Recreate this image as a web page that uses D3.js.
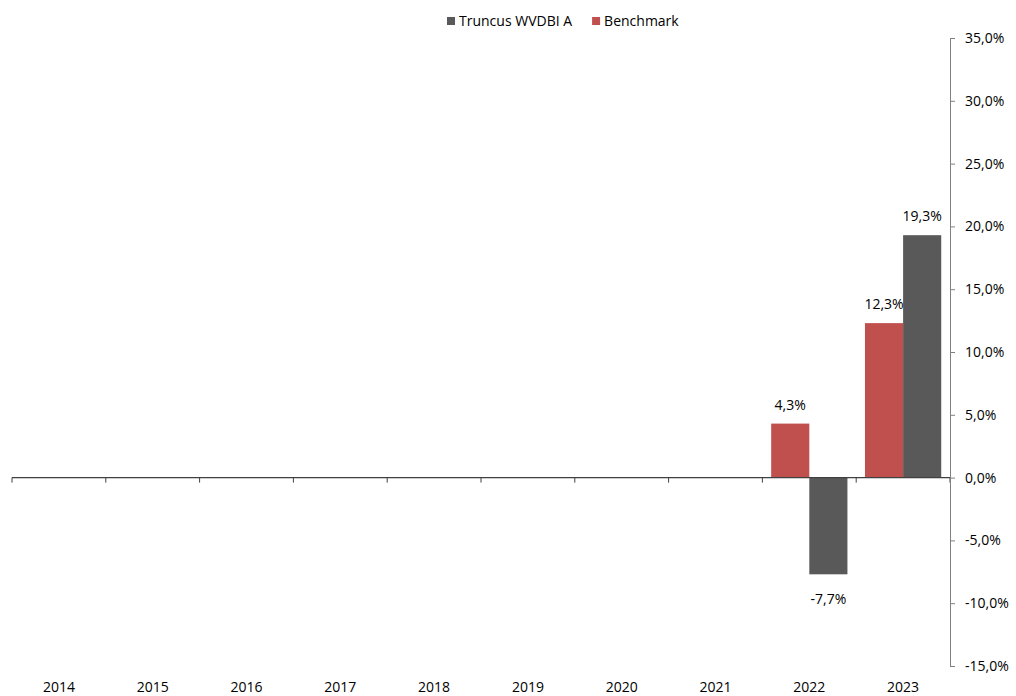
<!DOCTYPE html>
<html>
<head>
<meta charset="utf-8">
<script src="https://cdn.jsdelivr.net/npm/d3@7"></script>
<style>
  body { margin: 0; background: #fff; }
  text { font-family: "Open Sans", "Noto Sans", sans-serif; font-size: 14px; fill: #000; }
</style>
</head>
<body>
<svg id="chart"></svg>
<script>
// chart data
const years = ["2014", "2015", "2016", "2017", "2018", "2019", "2020", "2021", "2022", "2023"];
const seriesNames = ["Benchmark", "Truncus WVDBI A"];
const benchmark = [null, null, null, null, null, null, null, null, 4.3, 12.3];
const truncus = [null, null, null, null, null, null, null, null, -7.7, 19.3];
const yTicks = [-15, -10, -5, 0, 5, 10, 15, 20, 25, 30, 35];
const colors = { "Benchmark": "#C0504D", "Truncus WVDBI A": "#595959" };

const W = 1016, H = 696;
const margin = { top: 38, right: 66, bottom: 30, left: 12 };
const width = W - margin.left - margin.right,
      height = H - margin.top - margin.bottom;

const svgEl = d3.select("#chart").attr("width", W).attr("height", H);
const svg = svgEl.append("g").attr("transform", `translate(${margin.left},${margin.top})`);

const x = d3.scaleBand().domain(years).range([0, width]);
const x1 = d3.scaleBand().domain(seriesNames).range([0, x.bandwidth()]).paddingOuter(0.23);
const y = d3.scaleLinear().domain([-15, 35]).range([height, 0]);

// excel style: comma decimal, plain hyphen
const fmt = v => (v < 0 ? "-" : "") + d3.format(".1f")(Math.abs(v)).replace(".", ",") + "%";

// bars
const rows = years.map((yr, i) => ({ year: yr, vals: [
    { name: "Benchmark", value: benchmark[i] },
    { name: "Truncus WVDBI A", value: truncus[i] }
] }));

const groups = svg.selectAll(".grp")
    .data(rows)
    .enter().append("g")
    .attr("transform", d => `translate(${x(d.year)},0)`);

groups.selectAll("rect")
    .data(d => d.vals.filter(v => v.value !== null))
    .enter().append("rect")
    .attr("x", d => x1(d.name))
    .attr("width", x1.bandwidth())
    .attr("y", d => y(Math.max(0, d.value)))
    .attr("height", d => Math.abs(y(d.value) - y(0)))
    .attr("fill", d => colors[d.name]);

// value labels
groups.selectAll(".lbl")
    .data(d => d.vals.filter(v => v.value !== null))
    .enter().append("text")
    .attr("x", d => x1(d.name) + x1.bandwidth() / 2)
    .attr("y", d => d.value >= 0 ? y(d.value) - 14 : y(d.value) + 30)
    .attr("text-anchor", "middle")
    .text(d => fmt(d.value));

// x axis at zero
const xAxis = svg.append("g").attr("transform", `translate(0,${y(0)})`);
xAxis.append("line").attr("x1", 0).attr("x2", width).attr("stroke", "#404040").attr("stroke-width", 1.2);
xAxis.selectAll(".tk")
    .data(years.concat(["end"]))
    .enter().append("line")
    .attr("x1", (d, i) => i * x.step())
    .attr("x2", (d, i) => i * x.step())
    .attr("y1", 0).attr("y2", 5)
    .attr("stroke", "#404040");

// year labels at bottom
svg.selectAll(".yr")
    .data(years)
    .enter().append("text")
    .attr("x", d => x(d) + x.bandwidth() / 2)
    .attr("y", height + 26)
    .attr("text-anchor", "middle")
    .text(d => d);

// right axis
const yAxis = svg.append("g")
    .attr("transform", `translate(${width},0)`)
    .call(d3.axisRight(y).tickValues(yTicks).tickSize(5).tickPadding(10).tickFormat(fmt));
yAxis.select(".domain").attr("stroke", "#808080");
yAxis.selectAll(".tick line").attr("stroke", "#808080");
yAxis.selectAll(".tick text")
    .style("font-family", "'Open Sans', 'Noto Sans', sans-serif")
    .style("font-size", "14px")
    .attr("fill", "#000");

// legend
const legendItems = ["Truncus WVDBI A", "Benchmark"];
const legend = svgEl.append("g").attr("transform", "translate(447,22)");
let lx = 0;
legendItems.forEach(name => {
    const g = legend.append("g").attr("transform", `translate(${lx},0)`);
    g.append("rect").attr("x", 0).attr("y", -5).attr("width", 8).attr("height", 8).attr("fill", colors[name]);
    const t = g.append("text").attr("x", 12).attr("y", 4).text(name);
    lx += 12 + t.node().getComputedTextLength() + 20;
});
</script>
</body>
</html>
